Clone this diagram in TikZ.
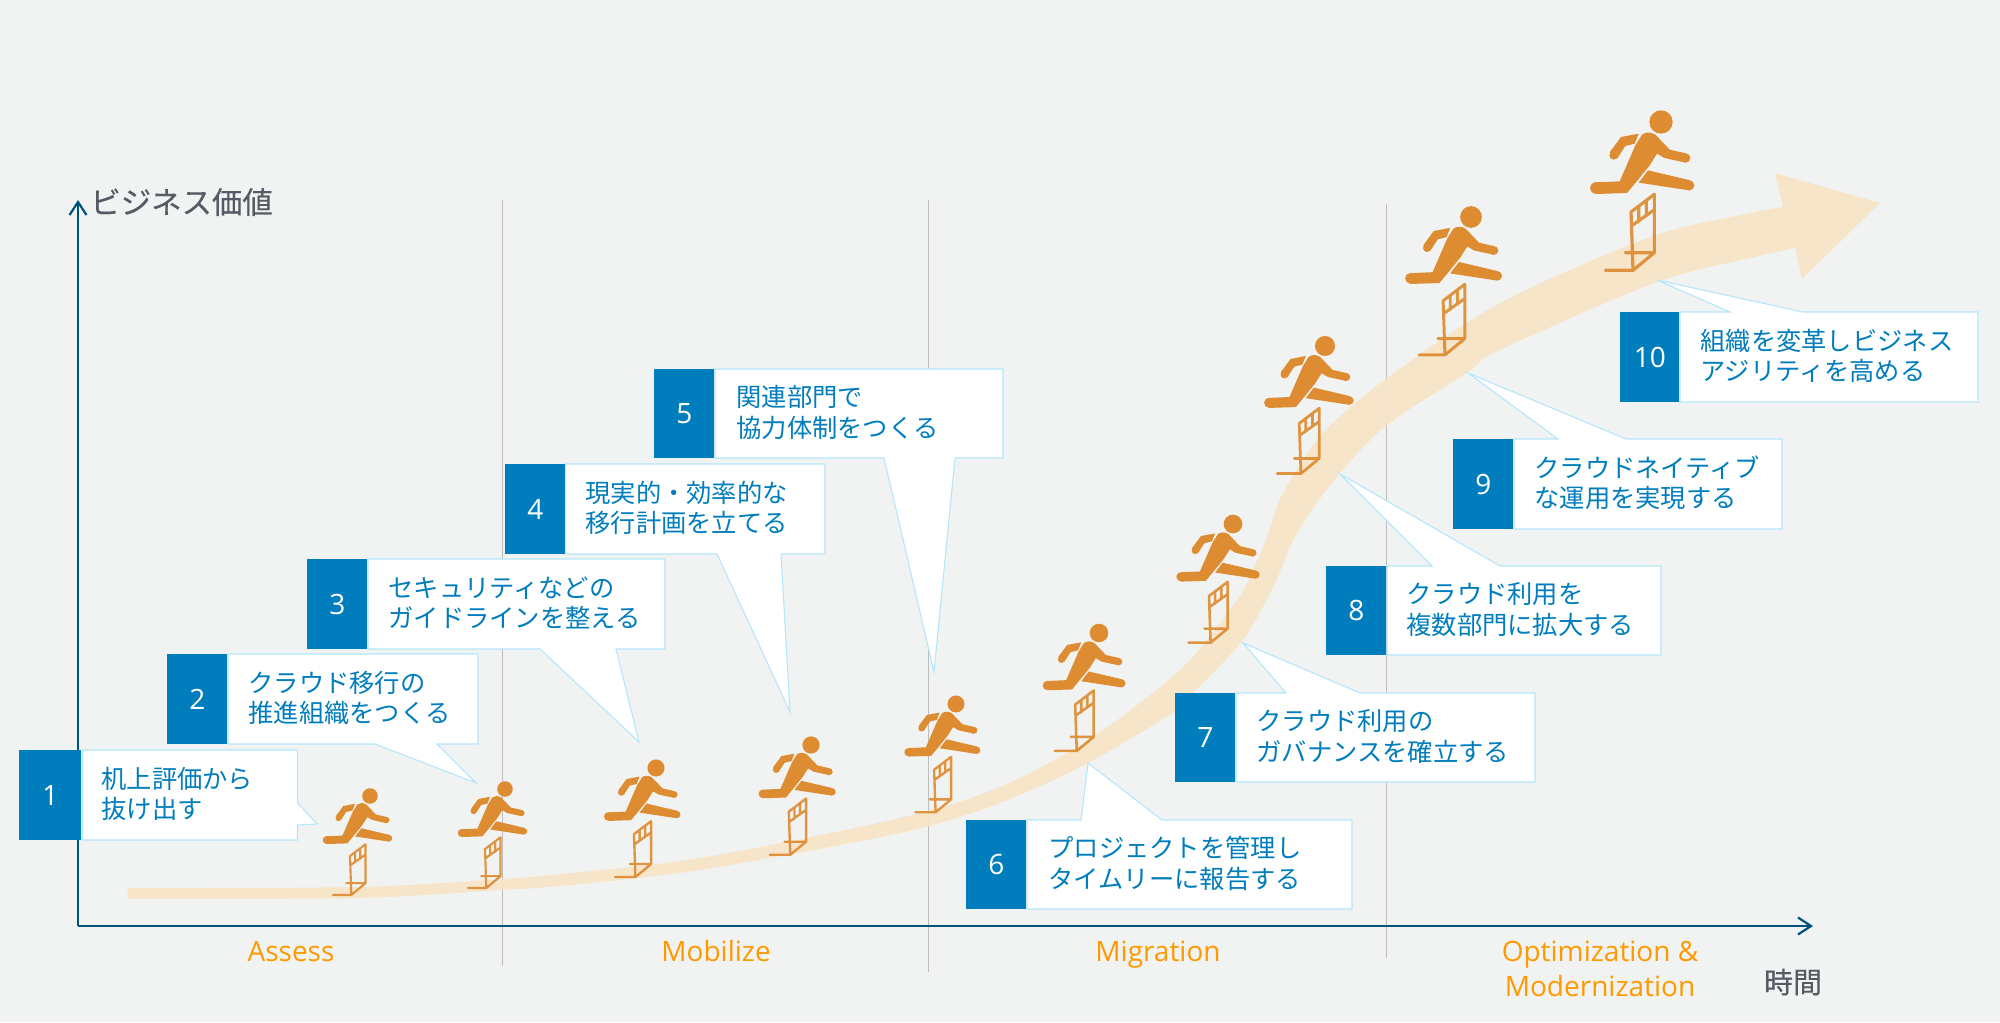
\documentclass[tikz,border=0pt]{standalone}
\usepackage{fontspec}
\setmainfont{Noto Sans CJK JP}
\newfontfamily\latinf{Open Sans}
\newfontfamily\jpbold[FakeBold=0.25]{Noto Sans CJK JP}
\usetikzlibrary{arrows.meta}
\definecolor{bgc}{HTML}{F1F3F2}
\definecolor{bandc}{HTML}{F8E4C8}
\definecolor{figc}{HTML}{DE8C32}
\definecolor{numc}{HTML}{007DBC}
\definecolor{edgec}{HTML}{B5E6FB}
\definecolor{axisc}{HTML}{00527C}
\definecolor{gridc}{HTML}{BDBDBD}
\definecolor{grayt}{HTML}{545B64}
\definecolor{orangec}{HTML}{FF9900}
\tikzset{
  axisline/.style={draw=axisc,line width=1.1pt,-{Straight Barb[length=6.5pt,width=8.5pt,line width=1.1pt]}},
  gridline/.style={draw=gridc,line width=.5pt},
  callbox/.style={draw=edgec,fill=white,line width=.55pt,line join=miter},
  numbox/.style={fill=numc,text=white,inner sep=0pt,font=\latinf\fontsize{14}{16}\selectfont,anchor=north west},
  calltext/.style={text=numc,inner sep=0pt,anchor=west,align=left,xshift=-.5pt,yshift=.6pt,font=\fontsize{12.65}{15.2}\selectfont},
  phase/.style={text=orangec,inner sep=0pt,align=center,font=\latinf\fontsize{14}{17.5}\selectfont},
  axlabel/.style={text=grayt,inner sep=0pt,font=\jpbold\fontsize{15.2}{18}\selectfont},
}
% #1 x, #2 y of head centre, #3 scale
\newcommand\hurdlebar[3]{%
  \begin{scope}[shift={(#1,#2)},scale=#3/3,shift={(-482,-95)}]
    \pgfmathsetmacro\lw{1.6*#3}
    \draw[figc,draw opacity=.92,line width=\lw pt,line cap=round,line join=round]
      (315,540) -- (398,540) -- (462,487) -- (462,312) -- (392,365) -- (398,540)
      (375,487) -- (462,487)
      (396,405) -- (462,358)
      (415,347) -- (415,394)
      (438,330) -- (438,377);
  \end{scope}}
\newcommand\runner[3]{%
  \begin{scope}[shift={(#1,#2)},scale=#3/3,shift={(-482,-95)}]
    \fill[figc] (482,95) circle[radius=35];
    \fill[figc] (405,165) -- (425,133) .. controls (435,125) and (450,124) .. (465,133)
      -- (508,178) -- (556,189) -- (556,217) -- (492,203) -- (470,190) -- (448,225)
      -- (410,272) -- (380,308) -- (287,311) -- (287,276) -- (358,273) -- cycle;
    \fill[figc] (556,203) circle[radius=14];
    \fill[figc] (287,293) circle[radius=17.5];
    \fill[figc] (443,240) -- (570,270) -- (566,300) -- (415,277) -- cycle;
    \fill[figc] (567,285) circle[radius=15];
    \fill[figc] (415,130) -- (362,140) -- (328,186) -- (350,205) -- (375,167) -- (403,160) -- cycle;
    \fill[figc] (340,195) circle[radius=13];
  \end{scope}}
\begin{document}
\begin{tikzpicture}[x=0.5pt,y=-0.5pt]
\useasboundingbox (0,0) rectangle (2000,1022);
\fill[bgc] (0,0) rectangle (2000,1022);
% grid lines
\coordinate (g1a) at (502.5,200); \coordinate (g1b) at (502.5,966);
\coordinate (g2a) at (928,200);   \coordinate (g2b) at (928,972);
\coordinate (g3a) at (1386,204);  \coordinate (g3b) at (1386,958);
\draw[gridline] (g1a) -- (g1b);
\draw[gridline] (g2a) -- (g2b);
\draw[gridline] (g3a) -- (g3b);
% band with arrow
\fill[bandc,fill opacity=.93]
  plot[smooth,tension=.5] coordinates {(127.5,888) (357,887) (502,879) (560,874) (700,858) (900,818) (1000,787) (1093,737) (1183,667) (1237,600) (1253,570) (1267,537) (1283,493) (1323,433) (1387,378) (1500,303) (1650,237) (1750,213) (1783,207)}
  -- (1775,173) -- (1880,203) -- (1802,279) -- 
  plot[smooth,tension=.5] coordinates {(1795,248) (1750,258) (1657,282) (1500,350) (1468,372) (1387,425) (1340,473) (1307,517) (1290,547) (1275,583) (1243,640) (1193,693) (1177,710) (1088,763) (1000,803) (900,833) (700,870) (560,886) (502,890) (357,898) (127.5,899)}
  -- cycle;
% hurdles
\hurdlebar{370}{796}{.667}
\hurdlebar{505}{789}{.667}
\hurdlebar{656}{768}{.735}
\hurdlebar{811}{745}{.74}
\hurdlebar{956}{704}{.73}
\hurdlebar{1099}{633}{.795}
\hurdlebar{1233}{524}{.80}
\hurdlebar{1325}{346}{.86}
\hurdlebar{1471}{217}{.93}
\hurdlebar{1661}{122}{1}
% runners
\runner{370}{796}{.667}
\runner{505}{789}{.667}
\runner{656}{768}{.735}
\runner{811}{745}{.74}
\runner{956}{704}{.73}
\runner{1099}{633}{.795}
\runner{1233}{524}{.80}
\runner{1325}{346}{.86}
\runner{1471}{217}{.93}
\runner{1661}{122}{1}
% axes
\coordinate (origin) at (78,926);
\coordinate (ytop) at (78,200);
\coordinate (xend) at (1813,926);
\draw[axisline] (origin) -- (ytop);
\draw[axisline] (origin) -- (xend);
\node[axlabel,anchor=west] (ylab) at (90,202) {ビジネス価値};
\node[axlabel,font=\jpbold\fontsize{14.5}{18}\selectfont] (xlab) at (1793,982) {時間};
% phases
\node[phase,anchor=base] (ph1) at (291,961) {Assess};
\node[phase,anchor=base] (ph2) at (716,961) {Mobilize};
\node[phase,anchor=base] (ph3) at (1158,961) {Migration};
\node[phase,anchor=north] (ph4) at (1600,941) {Optimization \&\\Modernization};
% callouts
\draw[callbox] (82.5,750) -- (297.5,750) -- (297.5,803) -- (317,824) -- (297.5,825) -- (297.5,840) -- (82.5,840) -- cycle;
\node[numbox,minimum width=31pt,minimum height=45pt] (n1) at (19,750) {1};
\node[calltext] (t1) at (102,795) {机上評価から\\抜け出す};

\draw[callbox] (228,654) -- (478,654) -- (478,744) -- (437,744) -- (476,783) -- (375,744) -- (228,744) -- cycle;
\node[numbox,minimum width=30pt,minimum height=45pt] (n2) at (167,654) {2};
\node[calltext] (t2) at (249,699) {クラウド移行の\\推進組織をつくる};

\draw[callbox] (368,559) -- (665,559) -- (665,649) -- (616,649) -- (639,742) -- (540,649) -- (368,649) -- cycle;
\node[numbox,minimum width=30pt,minimum height=45pt] (n3) at (307,559) {3};
\node[calltext] (t3) at (389,604) {セキュリティなどの\\ガイドラインを整える};

\draw[callbox] (565,464) -- (825,464) -- (825,554) -- (781,554) -- (790,712) -- (717,554) -- (565,554) -- cycle;
\node[numbox,minimum width=30pt,minimum height=45pt] (n4) at (505,464) {4};
\node[calltext] (t4) at (586,509) {現実的・効率的な\\移行計画を立てる};

\draw[callbox] (715,369) -- (1003,369) -- (1003,458) -- (955,458) -- (934,672) -- (884,458) -- (715,458) -- cycle;
\node[numbox,minimum width=30pt,minimum height=44.5pt] (n5) at (654,369) {5};
\node[calltext] (t5) at (737,413.5) {関連部門で\\協力体制をつくる};

\draw[callbox] (1027,820) -- (1081,820) -- (1088,763) -- (1162,820) -- (1352,820) -- (1352,909) -- (1027,909) -- cycle;
\node[numbox,minimum width=30pt,minimum height=44.5pt] (n6) at (966,820) {6};
\node[calltext] (t6) at (1049,864.5) {プロジェクトを管理し\\タイムリーに報告する};

\draw[callbox] (1236,693) -- (1286,693) -- (1243,643) -- (1360,693) -- (1535,693) -- (1535,782) -- (1236,782) -- cycle;
\node[numbox,minimum width=30pt,minimum height=44.5pt] (n7) at (1175,693) {7};
\node[calltext] (t7) at (1257,737.5) {クラウド利用の\\ガバナンスを確立する};

\draw[callbox] (1387,566) -- (1432,566) -- (1340,474) -- (1500,566) -- (1661,566) -- (1661,655) -- (1387,655) -- cycle;
\node[numbox,minimum width=30pt,minimum height=44.5pt] (n8) at (1326,566) {8};
\node[calltext] (t8) at (1407,610.5) {クラウド利用を\\複数部門に拡大する};

\draw[callbox] (1514,439) -- (1558,439) -- (1468,373) -- (1626,439) -- (1782,439) -- (1782,529) -- (1514,529) -- cycle;
\node[numbox,minimum width=30pt,minimum height=45pt] (n9) at (1453,439) {9};
\node[calltext] (t9) at (1535,484) {クラウドネイティブ\\な運用を実現する};

\draw[callbox] (1680,312) -- (1730,312) -- (1657,280) -- (1803,312) -- (1978,312) -- (1978,402) -- (1680,402) -- cycle;
\node[numbox,minimum width=29.5pt,minimum height=45pt] (n10) at (1620,312) {10};
\node[calltext] (t10) at (1701,357) {組織を変革しビジネス\\アジリティを高める};
\end{tikzpicture}
\end{document}
